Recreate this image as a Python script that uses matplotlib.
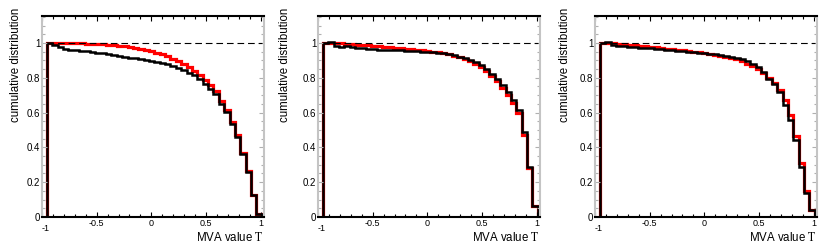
import numpy as np
import matplotlib
matplotlib.use('Agg')
import matplotlib.pyplot as plt
from matplotlib.ticker import MultipleLocator, FuncFormatter, FormatStrFormatter

plt.rcParams['font.family'] = ['Liberation Sans', 'DejaVu Sans']
plt.rcParams['mathtext.fontset'] = 'stix'
plt.rcParams['axes.unicode_minus'] = False

# 40 bins of the MVA output T
bin_edges = np.linspace(-0.955, 1.01, 41)

red_1 = [1.0, 1.0, 1.0, 1.0, 0.999, 0.998, 0.997, 0.996, 0.995, 0.994,
         0.992, 0.99, 0.987, 0.984, 0.98, 0.976, 0.971, 0.966, 0.96, 0.953,
         0.945, 0.935, 0.923, 0.91, 0.895, 0.878, 0.86, 0.838, 0.815, 0.79,
         0.758, 0.725, 0.668, 0.615, 0.548, 0.47, 0.368, 0.262, 0.125, 0.02]
black_1 = [1.0, 0.988, 0.975, 0.965, 0.962, 0.959, 0.956, 0.952, 0.948, 0.944,
           0.94, 0.935, 0.93, 0.925, 0.92, 0.915, 0.911, 0.907, 0.903, 0.898,
           0.892, 0.886, 0.878, 0.869, 0.858, 0.845, 0.83, 0.814, 0.795, 0.767,
           0.738, 0.709, 0.652, 0.603, 0.537, 0.46, 0.364, 0.259, 0.125, 0.02]

red_2 = [1.0, 1.0, 0.999, 0.997, 0.995, 0.993, 0.991, 0.989, 0.987, 0.985,
         0.982, 0.979, 0.976, 0.973, 0.97, 0.967, 0.964, 0.961, 0.958, 0.954,
         0.95, 0.946, 0.942, 0.936, 0.928, 0.918, 0.907, 0.895, 0.882, 0.862,
         0.84, 0.81, 0.78, 0.742, 0.7, 0.655, 0.598, 0.47, 0.28, 0.065]
black_2 = [1.0, 1.006, 0.985, 0.978, 0.98, 0.976, 0.972, 0.969, 0.966, 0.964,
           0.962, 0.96, 0.959, 0.958, 0.957, 0.956, 0.955, 0.953, 0.951, 0.949,
           0.946, 0.943, 0.94, 0.935, 0.93, 0.922, 0.913, 0.903, 0.89, 0.872,
           0.853, 0.824, 0.795, 0.757, 0.718, 0.67, 0.613, 0.488, 0.287, 0.063]

red_3 = [1.0, 1.0, 0.998, 0.995, 0.992, 0.989, 0.986, 0.983, 0.98, 0.977,
         0.974, 0.971, 0.968, 0.965, 0.962, 0.958, 0.954, 0.95, 0.946, 0.942,
         0.938, 0.933, 0.928, 0.922, 0.915, 0.906, 0.895, 0.882, 0.867, 0.85,
         0.83, 0.8, 0.768, 0.73, 0.675, 0.585, 0.465, 0.31, 0.15, 0.04]
black_3 = [1.0, 1.007, 0.986, 0.984, 0.981, 0.978, 0.975, 0.973, 0.971, 0.969,
           0.967, 0.965, 0.962, 0.959, 0.956, 0.953, 0.95, 0.947, 0.944, 0.941,
           0.938, 0.935, 0.932, 0.928, 0.922, 0.915, 0.906, 0.895, 0.88, 0.862,
           0.833, 0.795, 0.766, 0.718, 0.642, 0.556, 0.44, 0.29, 0.138, 0.038]

panels = [(red_1, black_1), (red_2, black_2), (red_3, black_3)]
lefts = [42, 318, 595]
ytitle_x = [-0.118, -0.149, -0.135]


def xfmt(v, pos):
    # the "-1" label is drawn by hand, shifted off the y "0"
    if abs(v + 1) < 1e-9:
        return ''
    return '%g' % v


fig = plt.figure(figsize=(8.3, 2.52), dpi=100)

for i, (red, black) in enumerate(panels):
    ax = fig.add_axes([lefts[i] / 830, 35 / 252, 222 / 830, 201 / 252])

    ax.stairs(red, bin_edges, baseline=0, color='red', lw=2.3)
    ax.stairs(black, bin_edges, baseline=0, color='black', lw=1.8)
    ax.hlines(1, bin_edges[0], bin_edges[-1], colors='black', lw=0.8,
              linestyles=(0, (6, 3.5)))

    ax.set_xlim(-1, 1.03)
    ax.set_ylim(0, 1.155)

    for side in ['top', 'bottom']:
        ax.spines[side].set_color('black')
        ax.spines[side].set_linewidth(1.5)
    for side in ['left', 'right']:
        ax.spines[side].set_color('#c4c4c4')
        ax.spines[side].set_linewidth(1.5)

    ax.xaxis.set_major_locator(MultipleLocator(0.5))
    ax.xaxis.set_minor_locator(MultipleLocator(0.1))
    ax.yaxis.set_major_locator(MultipleLocator(0.2))
    ax.yaxis.set_minor_locator(MultipleLocator(0.05))
    ax.xaxis.set_major_formatter(FuncFormatter(xfmt))
    ax.yaxis.set_major_formatter(FormatStrFormatter('%g'))

    ax.tick_params(axis='x', which='both', direction='in', top=True,
                   color='black', width=0.8, labelsize=6.5, pad=1.8)
    ax.tick_params(axis='y', which='both', direction='in', right=True,
                   color='#b0b0b0', width=0.8, labelsize=7, pad=1.2)
    ax.tick_params(which='major', length=3.6)
    ax.tick_params(which='minor', length=2)

    ax.text(-1, -0.035, '-1', transform=ax.get_xaxis_transform(),
            ha='left', va='top', fontsize=6.5)

    ax.text(1.0, -0.1, 'MVA value $\\mathrm{T}$', transform=ax.transAxes,
            ha='right', va='center', fontsize=8.3)
    ax.text(ytitle_x[i], 1.04, 'cumulative distribution', transform=ax.transAxes,
            rotation=90, ha='center', va='top', fontsize=8.3)

fig.savefig('out.png', dpi=100)
